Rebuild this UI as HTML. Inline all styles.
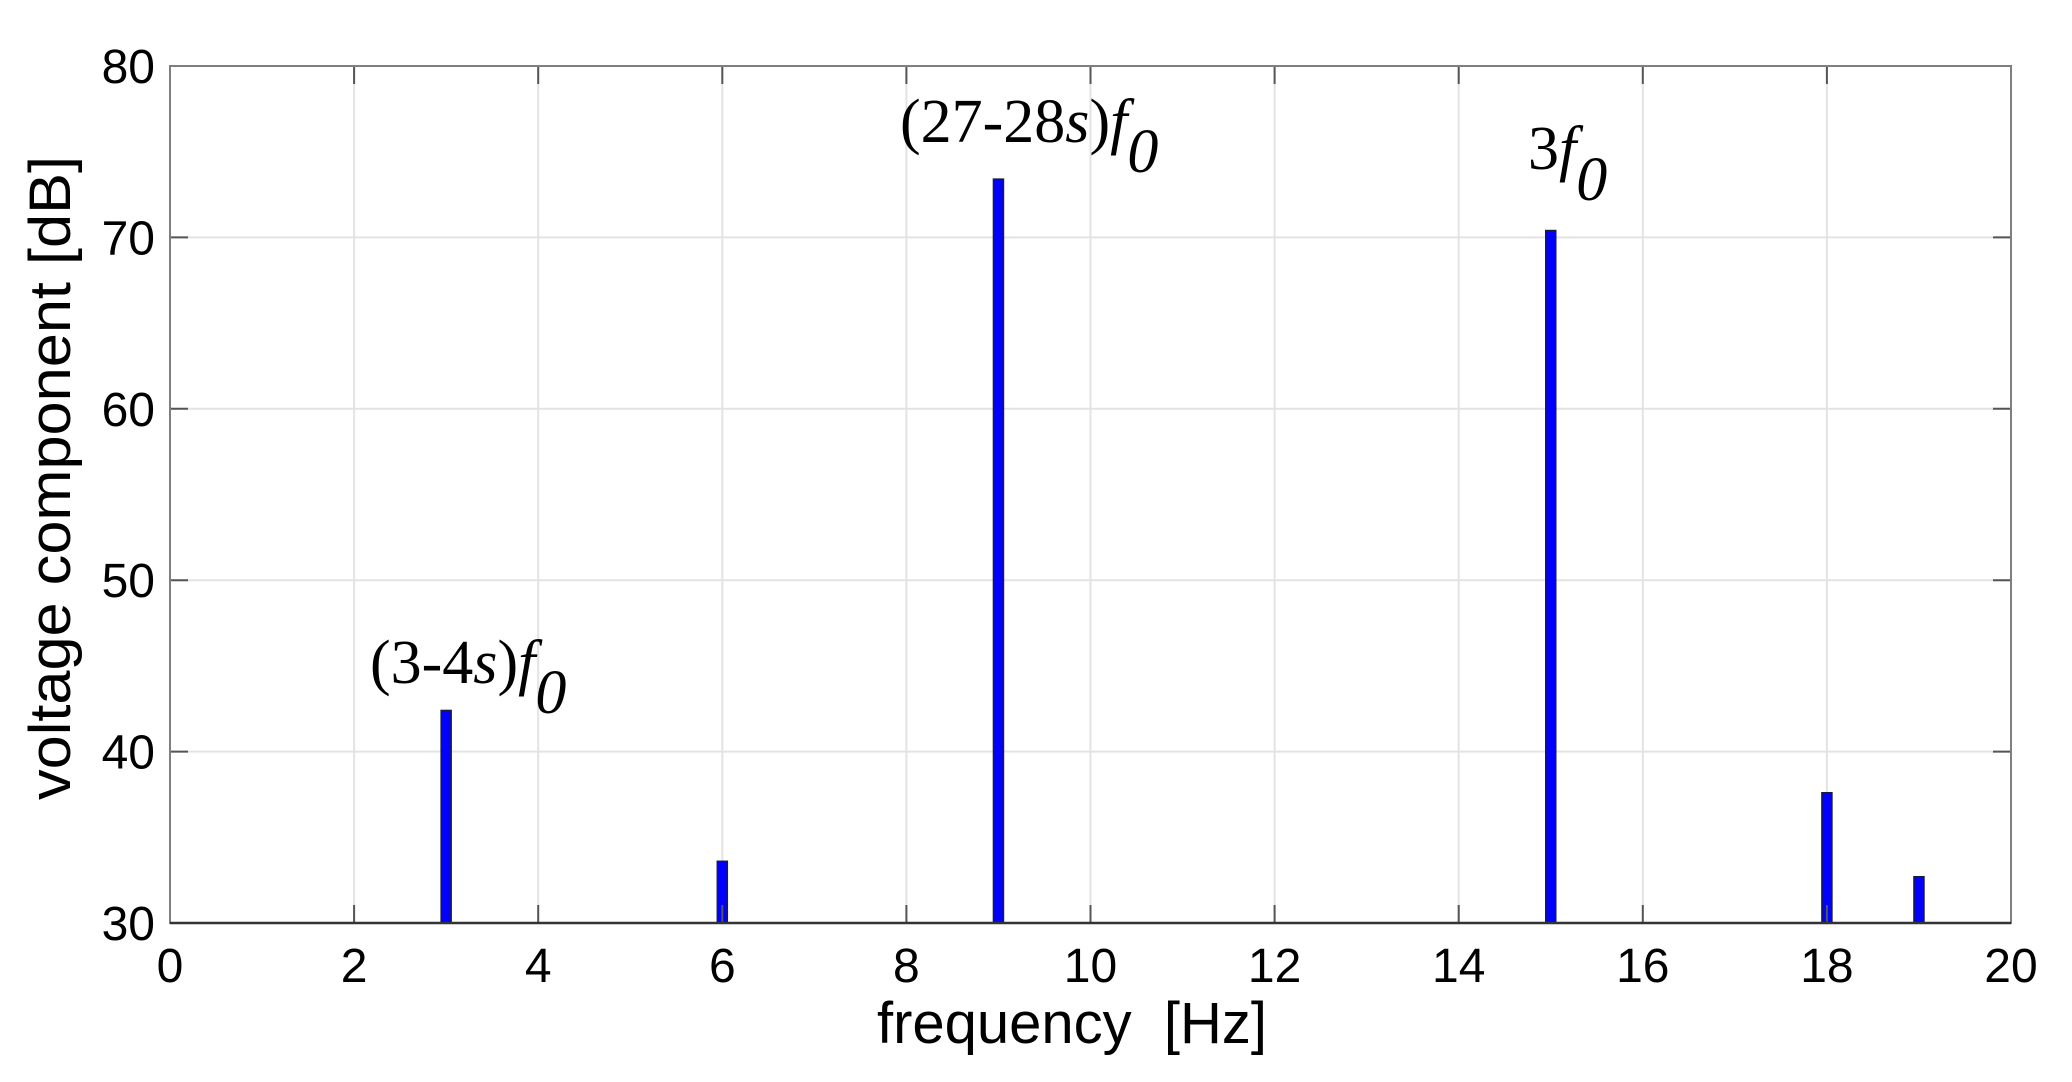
<!DOCTYPE html>
<html><head><meta charset="utf-8"><style>
html,body{margin:0;padding:0;background:#fff;}
svg{display:block;}
</style></head><body>
<svg id="chart" width="2072" height="1082" xmlns="http://www.w3.org/2000/svg">
<g id="grid"></g>
<g id="bars"></g>
<g id="axes"></g>
<g font-family="'Liberation Serif', serif" font-size="62" fill="#000">
<text x="900" y="142">(27-28<tspan font-style="italic">s</tspan>)<tspan font-style="italic">f</tspan><tspan font-style="italic" dy="30">0</tspan></text>
<text x="1528" y="169">3<tspan font-style="italic">f</tspan><tspan font-style="italic" dy="31">0</tspan></text>
<text x="370" y="683">(3-4<tspan font-style="italic">s</tspan>)<tspan font-style="italic">f</tspan><tspan font-style="italic" dy="30">0</tspan></text>
</g>
<text x="1072" y="1043" text-anchor="middle" font-family="'Liberation Sans', sans-serif" font-size="58">frequency&#160;&#160;[Hz]</text>
<text transform="translate(70,478) rotate(-90)" text-anchor="middle" font-family="'Liberation Sans', sans-serif" font-size="58" textLength="644" lengthAdjust="spacingAndGlyphs">voltage component [dB]</text>
</svg>
<script>
const freqs = [3, 6, 9, 15, 18, 19];
const levels = [42.4, 33.6, 73.4, 70.4, 37.6, 32.7];
const xTicks = [0, 2, 4, 6, 8, 10, 12, 14, 16, 18, 20];
const yTicks = [30, 40, 50, 60, 70, 80];

const L = 170, R = 2011, T = 66, B = 923;
const xs = v => L + (v - 0) / 20 * (R - L);
const ys = v => B - (v - 30) / 50 * (B - T);
const NS = 'http://www.w3.org/2000/svg';
function mk(tag, attrs, parent) {
  const e = document.createElementNS(NS, tag);
  for (const k in attrs) e.setAttribute(k, attrs[k]);
  parent.appendChild(e);
  return e;
}
const grid = document.getElementById('grid');
const bars = document.getElementById('bars');
const axes = document.getElementById('axes');

xTicks.forEach(t => {
  const x = xs(t);
  if (t > 0 && t < 20) {
    const g = mk('line', {x1: x, x2: x, y1: T, y2: B, stroke: '#e3e3e3', 'stroke-width': 2}, grid);
    
    
  }
  const tk = mk('line', {x1: x, x2: x, y1: B, y2: B - 18, stroke: '#555', 'stroke-width': 2}, axes);
  
  
  const tk2 = mk('line', {x1: x, x2: x, y1: T, y2: T + 18, stroke: '#555', 'stroke-width': 2}, axes);
  
  
  const lb = mk('text', {x: x, y: 982, 'text-anchor': 'middle', 'font-family': "'Liberation Sans', sans-serif", 'font-size': 48}, axes);
  lb.textContent = t;
  
  
});
yTicks.forEach(t => {
  const y = ys(t);
  if (t > 30 && t < 80) {
    const g = mk('line', {x1: L, x2: R, y1: y, y2: y, stroke: '#e3e3e3', 'stroke-width': 2}, grid);
    
    
  }
  const tk = mk('line', {x1: L, x2: L + 18, y1: y, y2: y, stroke: '#555', 'stroke-width': 2}, axes);
  
  
  const tk2 = mk('line', {x1: R, x2: R - 18, y1: y, y2: y, stroke: '#555', 'stroke-width': 2}, axes);
  
  
  const lb = mk('text', {x: 155, y: y + 17, 'text-anchor': 'end', 'font-family': "'Liberation Sans', sans-serif", 'font-size': 48}, axes);
  lb.textContent = t;
  
  
});
const frame = mk('rect', {x: L, y: T, width: R - L, height: B - T, fill: 'none', stroke: '#7f7f7f', 'stroke-width': 2}, axes);


const base = mk('line', {x1: L, x2: R, y1: B, y2: B, stroke: '#333', 'stroke-width': 2.5}, axes);



freqs.forEach((f, i) => {
  const x = xs(f), y = ys(levels[i]);
  const r = mk('rect', {x: x - 5, y: y, width: 10, height: B - y, fill: '#0000ff', stroke: '#1a1a40', 'stroke-width': 1.5}, bars);
  
  
});
</script>
</body></html>
